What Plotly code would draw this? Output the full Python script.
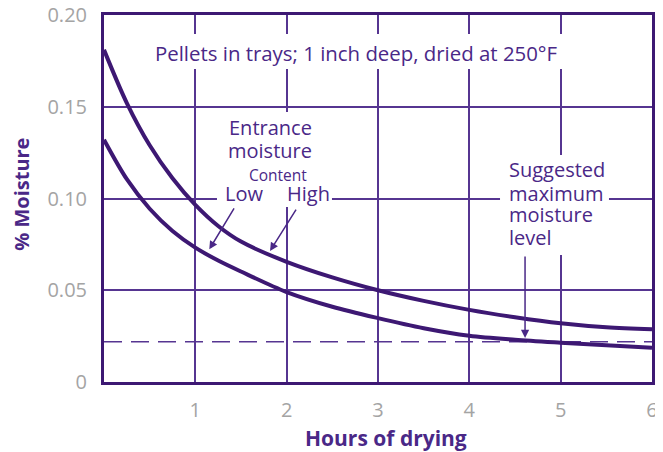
import plotly.graph_objects as go

# ---- data ----
hours = [0, 0.25, 0.5, 0.75, 1, 1.25, 1.5, 2, 2.5, 3, 3.5, 4, 4.5, 5, 5.5, 6]
high_moisture = [0.181, 0.152, 0.129, 0.111, 0.0965, 0.085, 0.0765, 0.0655, 0.057, 0.050,
                 0.0442, 0.0393, 0.0353, 0.032, 0.0298, 0.0287]
low_moisture = [0.132, 0.1105, 0.0944, 0.0823, 0.0732, 0.0662, 0.0602, 0.0490, 0.0410, 0.0348,
                0.0293, 0.0252, 0.0230, 0.0214, 0.0200, 0.0187]
limit_hours = [0, 6]
limit_moisture = [0.022, 0.022]

x_ticks = [1, 2, 3, 4, 5, 6]
x_tick_labels = ["1", "2", "3", "4", "5", "6"]
y_ticks = [0, 0.05, 0.10, 0.15, 0.20]
y_tick_labels = ["0", "0.05", "0.10", "0.15", "0.20"]

CURVE = "#3d1873"
GRID = "#563591"
TEXT = "#4a2887"
TICK = "#a4a4a4"
FONT = "Open Sans"

fig = go.Figure()
fig.add_trace(go.Scatter(x=limit_hours, y=limit_moisture, mode="lines",
                         line=dict(color=GRID, width=1.5, dash="18px,9px"),
                         hoverinfo="skip", showlegend=False))
fig.add_trace(go.Scatter(x=hours, y=high_moisture, mode="lines",
                         line=dict(color=CURVE, width=4, shape="spline", smoothing=0.9),
                         name="High", showlegend=False))
fig.add_trace(go.Scatter(x=hours, y=low_moisture, mode="lines",
                         line=dict(color=CURVE, width=4, shape="spline", smoothing=0.9),
                         name="Low", showlegend=False))

# white masks that interrupt the grid behind the labels
masks = [
    (0.46, 5.06, 0.1706, 0.1896),   # title
    (1.237, 2.496, 0.0954, 0.1471),  # entrance moisture block
    (4.336, 5.529, 0.0692, 0.1237),  # suggested block
]
for x0, x1, y0, y1 in masks:
    fig.add_shape(type="rect", xref="x", yref="y", x0=x0, x1=x1, y0=y0, y1=y1,
                  fillcolor="white", line=dict(width=0), layer="between")

def txt(x, y, text, size=20, xanchor="center"):
    fig.add_annotation(x=x, y=y, xref="x", yref="y", text=text, showarrow=False,
                       xanchor=xanchor, yanchor="middle",
                       font=dict(family=FONT, size=size, color=TEXT))

txt(2.765, 0.1795, "Pellets in trays; 1 inch deep, dried at 250°F", size=20.4)
txt(1.822, 0.1387, "Entrance")
txt(1.822, 0.1264, "moisture")
txt(1.905, 0.1130, "Content", size=15.5)
txt(1.531, 0.1025, "Low")
txt(2.242, 0.1025, "High")
txt(4.409, 0.1157, "Suggested", xanchor="left")
txt(4.409, 0.1029, "maximum", xanchor="left")
txt(4.409, 0.0911, "moisture", xanchor="left")
txt(4.409, 0.0790, "level", xanchor="left")

def arrow(x_tail, y_tail, x_tip, y_tip):
    fig.add_annotation(x=x_tip, y=y_tip, ax=x_tail, ay=y_tail, xref="x", yref="y",
                       axref="x", ayref="y", text="", showarrow=True,
                       arrowhead=2, arrowsize=1.1, arrowwidth=1.5, arrowcolor=TEXT,
                       standoff=0, startstandoff=0)

arrow(1.434, 0.0954, 1.153, 0.0723)
arrow(2.113, 0.0948, 1.818, 0.0714)
arrow(4.61, 0.0692, 4.61, 0.024)

# axis titles
fig.add_annotation(x=0.515, y=-0.1526, xref="paper", yref="paper", text="<b>Hours of drying</b>",
                   showarrow=False, xanchor="center", yanchor="middle",
                   font=dict(family=FONT, size=21, color=TEXT))
fig.add_annotation(x=-0.152, y=0.512, xref="paper", yref="paper", text="<b>% Moisture</b>",
                   showarrow=False, xanchor="center", yanchor="middle", textangle=-90,
                   font=dict(family=FONT, size=20, color=TEXT))

fig.update_xaxes(range=[0, 6], tickvals=x_ticks, ticktext=x_tick_labels,
                 showgrid=True, gridcolor=GRID, gridwidth=1.5, zeroline=False,
                 showline=True, linecolor=CURVE, linewidth=3, mirror=True,
                 ticks="", ticklabelstandoff=8, automargin=False,
                 ticklabeloverflow="allow",
                 tickfont=dict(family=FONT, size=20, color=TICK))
fig.update_yaxes(range=[0, 0.2], tickvals=y_ticks, ticktext=y_tick_labels,
                 showgrid=True, gridcolor=GRID, gridwidth=1.5, zeroline=False,
                 showline=True, linecolor=CURVE, linewidth=3, mirror=True,
                 ticks="", ticklabelstandoff=10, automargin=False,
                 ticklabeloverflow="allow",
                 tickfont=dict(family=FONT, size=20, color=TICK))

# the page body adds an 8px offset, so the figure is 8px smaller and margins shifted
fig.update_layout(width=655, height=444, margin=dict(l=96, r=11, t=7, b=70, autoexpand=False),
                  plot_bgcolor="white", paper_bgcolor="white", showlegend=False)

fig.write_html("out.html")
